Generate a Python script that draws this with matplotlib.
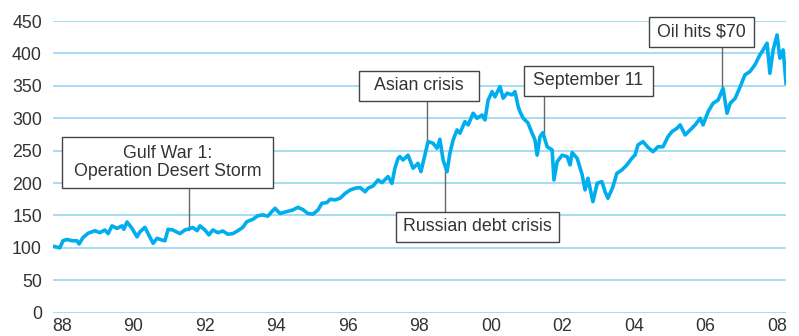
"""Index level 1988-2008 with market-event call-outs."""
import matplotlib

matplotlib.use("Agg")
import matplotlib.pyplot as plt
from matplotlib.patches import Rectangle

plt.rcParams["font.family"] = ["Liberation Sans", "DejaVu Sans"]

# index level (fractional year, value)
years = [
    1987.80, 1987.94, 1988.03, 1988.14, 1988.28, 1988.42, 1988.48, 1988.59, 1988.73, 1988.92,
    1989.06, 1989.20, 1989.29, 1989.40, 1989.54, 1989.68, 1989.73, 1989.82, 1989.96, 1990.10,
    1990.18, 1990.32, 1990.41, 1990.55, 1990.66, 1990.80, 1990.88, 1990.97, 1991.10, 1991.30,
    1991.44, 1991.52, 1991.66, 1991.78, 1991.86, 1992.00, 1992.11, 1992.22, 1992.36, 1992.50,
    1992.64, 1992.78, 1992.92, 1993.06, 1993.17, 1993.34, 1993.48, 1993.62, 1993.76, 1993.87,
    1993.96, 1994.10, 1994.29, 1994.46, 1994.60, 1994.74, 1994.88, 1995.02, 1995.16, 1995.27,
    1995.41, 1995.50, 1995.64, 1995.78, 1995.92, 1996.06, 1996.20, 1996.34, 1996.48, 1996.56,
    1996.70, 1996.84, 1996.95, 1997.12, 1997.23, 1997.31, 1997.40, 1997.45, 1997.54, 1997.68,
    1997.82, 1997.96, 1998.04, 1998.15, 1998.24, 1998.38, 1998.49, 1998.57, 1998.66, 1998.77,
    1998.85, 1998.94, 1999.05, 1999.13, 1999.27, 1999.36, 1999.50, 1999.61, 1999.75, 1999.83,
    1999.92, 2000.03, 2000.11, 2000.25, 2000.34, 2000.45, 2000.59, 2000.67, 2000.76, 2000.81,
    2000.90, 2001.03, 2001.15, 2001.23, 2001.29, 2001.37, 2001.45, 2001.57, 2001.71, 2001.76,
    2001.85, 2001.99, 2002.13, 2002.21, 2002.27, 2002.41, 2002.55, 2002.63, 2002.71, 2002.85,
    2002.97, 2003.10, 2003.19, 2003.27, 2003.41, 2003.52, 2003.66, 2003.80, 2003.94, 2004.03,
    2004.11, 2004.25, 2004.39, 2004.53, 2004.67, 2004.81, 2004.95, 2005.06, 2005.20, 2005.29,
    2005.43, 2005.57, 2005.71, 2005.85, 2005.93, 2006.07, 2006.21, 2006.35, 2006.49, 2006.60,
    2006.69, 2006.83, 2006.97, 2007.10, 2007.24, 2007.38, 2007.52, 2007.61, 2007.72, 2007.80,
    2007.89, 2008.00, 2008.08, 2008.17, 2008.25,
]
values = [
    102, 100, 111, 113, 111, 111, 106, 116, 122.5, 126.5,
    123.5, 127.6, 122, 134, 130, 134, 128.7, 140, 130, 117,
    124.6, 131.7, 122, 107, 114.8, 112, 111, 128.7, 127.6, 122,
    127.6, 128.7, 131.5, 126.5, 134, 127.6, 120, 127.6, 123.5, 126,
    121, 122, 126.5, 131.7, 140.4, 144, 149.7, 150.8, 149, 156,
    161, 153, 156, 158.5, 162.6, 159, 153, 152, 158.5, 168.8,
    169.9, 175, 174, 176.6, 184, 189.3, 192, 193, 186.6, 192,
    195.5, 204.8, 200.6, 210, 199.5, 222.8, 238, 240.8, 235.6, 243,
    222.8, 230.5, 217.6, 243, 264, 261.4, 253.7, 267.6, 235.6, 217.6,
    246, 266.5, 282, 276.8, 294.8, 289.7, 307.7, 300, 305, 297.4,
    328, 341, 333, 348.8, 330.9, 338.6, 336, 341, 318, 310,
    300, 293, 276.8, 266.5, 243, 271.6, 277.8, 256, 251, 204.8,
    233, 243, 240.7, 228, 247, 238, 212.5, 189.4, 207.4, 171.3,
    199.7, 202.2, 186.7, 176.5, 194.4, 215, 220.2, 228, 238.3, 243.4,
    258.8, 263.9, 255, 248.5, 256, 256, 271.6, 279.3, 284.5, 289.7,
    274.2, 282, 289.7, 300, 289.7, 310, 323, 328, 346, 307.7,
    323, 330.9, 348.8, 366.8, 372, 382.3, 397.7, 405.4, 415.7, 369.4,
    405.4, 428.5, 392.6, 405.4, 354,
]

tick_years = list(range(1988, 2009, 2))
tick_labels = [f"{y % 100:02d}" for y in tick_years]
y_ticks = list(range(0, 451, 50))

# call-outs: label, event year, value the leader points at, box (x0, x1, y0, y1)
events = ["Gulf War 1:\nOperation Desert Storm", "Asian crisis", "Russian debt crisis",
          "September 11", "Oil hits $70"]
event_years = [1991.55, 1998.21, 1998.71, 2001.48, 2006.46]
event_tips = [127.6, 266.5, 220.0, 277.3, 348.3]
boxes = [
    (1988.00, 1993.90, 192.4, 271.0),
    (1996.31, 1999.66, 326.7, 372.9),
    (1997.34, 2001.90, 109.1, 155.4),
    (2000.92, 2004.53, 334.4, 380.7),
    (2004.42, 2007.36, 410.0, 456.3),
]

LINE = "#00aeef"
GRID = "#9fd9f2"
TEXT = "#333333"

fig = plt.figure(figsize=(7.99, 3.36), dpi=100)
ax = fig.add_axes([53 / 799, 1 - 312.7 / 336, 733 / 799, 291.7 / 336])

for v in y_ticks:
    ax.axhline(v, color=GRID, lw=1.3, zorder=1)

ax.plot(years, values, color=LINE, lw=2.6, solid_joinstyle="round", zorder=3)

for label, ex, tip, (x0, x1, y0, y1) in zip(events, event_years, event_tips, boxes):
    edge = y0 if tip < y0 else y1
    ax.plot([ex, ex], [tip, edge], color="#666666", lw=1.0, zorder=2, clip_on=False)
    ax.add_patch(Rectangle((x0, y0), x1 - x0, y1 - y0, facecolor="white",
                           edgecolor="#444444", lw=1.0, zorder=4, clip_on=False))
    ax.text((x0 + x1) / 2, (y0 + y1) / 2, label, ha="center", va="center",
            fontsize=12.8, color=TEXT, zorder=5, linespacing=1.05, clip_on=False)

ax.set_xlim(1987.75, 2008.25)
ax.set_ylim(0, 450)
ax.set_xticks(tick_years)
ax.set_xticklabels(tick_labels)
ax.set_yticks(y_ticks)
ax.tick_params(length=0, labelsize=12.8, labelcolor=TEXT)
ax.tick_params(axis="y", pad=8)
ax.tick_params(axis="x", pad=4)
for s in ax.spines.values():
    s.set_visible(False)

fig.savefig("out.png", dpi=100)
